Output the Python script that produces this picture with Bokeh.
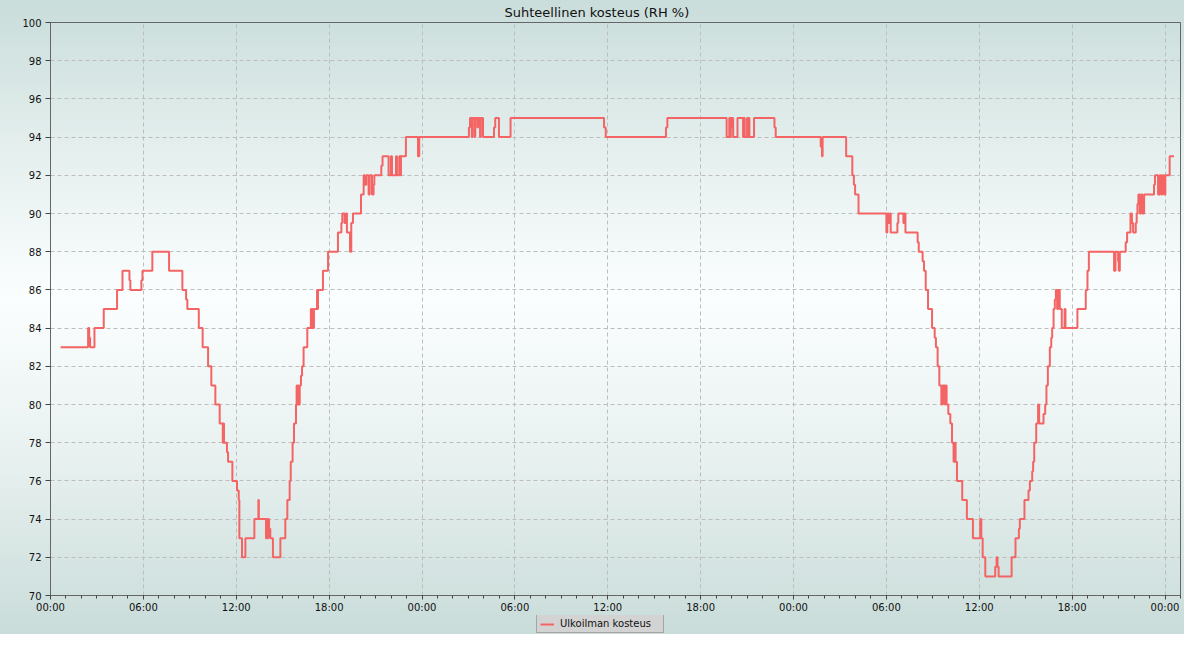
from bokeh.plotting import figure
from bokeh.layouts import column
from bokeh.models import (ColumnDataSource, FixedTicker, Range1d, Legend, LegendItem)
from bokeh.embed import file_html
from bokeh.resources import INLINE

# hours from 00:00 of the first day, relative humidity (%)
hours = [
    0.65, 2.43, 2.50, 2.56, 2.84, 3.44, 4.30, 4.65, 5.10, 5.16, 5.87, 5.94, 6.58, 7.66,
    8.52, 8.76, 8.84, 9.58, 9.83, 10.18, 10.39, 10.65, 10.93, 11.13, 11.17, 11.21,
    11.40, 11.47, 11.75, 12.05, 12.16, 12.20, 12.37, 12.59, 13.17, 13.43, 13.46, 13.92,
    13.97, 14.02, 14.07, 14.12, 14.20, 14.37, 14.85, 15.17, 15.30, 15.45, 15.52, 15.64,
    15.73, 15.86, 15.90, 15.94, 15.99, 16.03, 16.10, 16.18, 16.25, 16.35, 16.59, 16.82,
    16.86, 16.90, 16.94, 17.02, 17.22, 17.26, 17.28, 17.60, 17.93, 18.57, 18.79, 18.85,
    19.00, 19.09, 19.15, 19.35, 19.43, 19.54, 20.06, 20.23, 20.31, 20.40, 20.55, 20.62,
    20.77, 20.87, 20.92, 21.37, 21.45, 21.84, 21.99, 22.06, 22.32, 22.38, 22.53, 22.60,
    22.64, 22.96, 23.74, 23.82,
    27.03, 27.10, 27.22, 27.26, 27.40, 27.44, 27.58, 27.62, 27.75, 27.80, 27.94,
    28.65, 28.73, 28.97, 29.72, 35.76, 35.87, 39.76, 39.85,
    43.68, 43.85, 43.90, 43.95, 44.00, 44.05, 44.10, 44.38, 44.74, 44.80, 44.85, 45.00,
    45.05, 45.10, 45.15, 45.45, 46.77, 46.85, 49.76, 49.84, 49.88,
    51.40, 51.80, 51.90, 51.98, 52.20,
    54.00, 54.06, 54.15, 54.22, 54.28, 54.71, 54.77, 55.10, 55.16, 55.23, 56.02, 56.09,
    56.34, 56.43, 56.54, 56.69, 56.95, 57.12, 57.20, 57.31, 57.42, 57.55, 57.63, 57.76,
    57.81, 57.89, 58.00, 58.13, 58.24, 58.34, 58.43, 58.47, 58.56, 58.90, 59.20, 59.59,
    60.06, 60.13, 60.22, 60.39, 61.03, 61.12, 61.18, 61.25, 62.09, 62.34, 62.56, 62.62,
    62.92, 63.18, 63.27, 63.42, 63.48, 63.55, 63.68, 63.80, 63.87, 64.15, 64.26, 64.34,
    64.43, 64.56, 64.65, 64.71, 64.80, 64.88, 64.95, 65.03, 65.10, 65.20, 65.33, 65.51,
    65.57, 66.34, 66.88, 66.99, 67.08, 68.71, 68.80, 68.97, 69.01, 69.08, 69.46, 69.55,
    69.77, 69.86, 69.94, 70.11, 70.17, 70.22, 70.28, 70.37, 70.45, 70.54, 70.65, 71.29,
    71.35, 71.55, 71.66, 71.76, 71.83, 71.94, 72.02, 72.30, 72.58,
]
humidity = [
    83, 84, 83.5, 83, 84, 85, 86, 87, 86.5, 86, 86.5, 87, 88, 87,
    86, 85.5, 85, 84, 83, 82, 81, 80, 79, 78, 79, 78,
    77.5, 77, 76, 75.5, 75, 73, 72, 73, 74, 75, 74, 73,
    74, 73, 74, 73.5, 73, 72, 73, 74, 75, 76, 77, 78,
    79, 80, 81, 80, 81, 80, 81, 81.5, 82, 83, 84, 85,
    84, 85, 84, 85, 86, 85, 86, 87, 88, 89, 89.5, 90,
    89.5, 90, 89, 88, 89.5, 90, 91, 92, 91.5, 92, 91, 92,
    91, 91.5, 92, 92.5, 93, 92, 93, 92, 93, 92, 93, 92,
    93, 94, 93, 94,
    94.5, 95, 94, 95, 94, 95, 94.5, 95, 94, 95, 94,
    94.5, 95, 94, 95, 94.5, 94, 94.5, 95,
    94, 95, 94, 95, 94.5, 95, 94, 95, 94, 95, 94, 95,
    94, 95, 94, 95, 94.5, 94, 93.5, 93, 94,
    93, 92, 91.5, 91, 90,
    89, 90, 89.5, 90, 89, 89.5, 90, 89.5, 90, 89, 88.5, 88,
    87.5, 87, 86, 85, 84, 83.5, 83, 82, 81, 80, 81, 80,
    81, 80, 79.5, 79, 78, 77, 78, 77, 76, 75, 74, 73,
    74, 73, 72, 71, 71.5, 72, 71.5, 71, 72, 73, 73.5, 74,
    75, 75.5, 76, 76.5, 77, 78, 79, 80, 79, 79.5, 80, 81,
    82, 83, 83.5, 84, 85, 85.5, 86, 85, 86, 85, 84, 85,
    84, 85, 86, 87, 88, 87, 88, 87.5, 87, 88, 88.5, 89,
    90, 89.5, 89, 89.5, 90, 90.5, 91, 90, 91, 90, 91, 91.5,
    92, 91, 92, 91, 92, 91, 92, 93, 93,
]

x_tick_hours = [0, 6, 12, 18, 24, 30, 36, 42, 48, 54, 60, 66, 72]
x_tick_labels = ["00:00", "06:00", "12:00", "18:00", "00:00", "06:00", "12:00",
                 "18:00", "00:00", "06:00", "12:00", "18:00", "00:00"]
y_ticks = list(range(70, 101, 2))

FONT = "DejaVu Sans"
LINE = "#f46464"

source = ColumnDataSource(data=dict(h=hours, v=humidity))

p = figure(frame_width=1130, frame_height=573, output_backend="svg", toolbar_location=None,
           x_range=Range1d(0, 73.0), y_range=Range1d(70, 100),
           min_border_left=50, min_border_right=4, min_border_top=22,
           min_border_bottom=19,
           title="Suhteellinen kosteus (RH %)")
p.background_fill_color = None
p.border_fill_color = None
p.outline_line_color = "#666666"
p.outline_line_width = 1

p.title.align = "left"
p.title.offset = 454
p.title.standoff = 5
p.title.text_font = FONT
p.title.text_font_size = "13px"
p.title.text_font_style = "normal"
p.title.text_color = "#111111"

r = p.step(x="h", y="v", source=source, mode="after", line_color=LINE, line_width=2)

# axes
p.xaxis.ticker = FixedTicker(ticks=x_tick_hours, minor_ticks=list(range(0, 74)))
p.xaxis.major_label_overrides = {h: l for h, l in zip(x_tick_hours, x_tick_labels)}
p.yaxis.ticker = FixedTicker(ticks=y_ticks, minor_ticks=[])
for ax in (p.xaxis, p.yaxis):
    ax.axis_line_color = "#666666"
    ax.major_tick_line_color = "#444444"
    ax.minor_tick_line_color = "#444444"
    ax.major_label_text_font = FONT
    ax.major_label_text_font_size = "10px"
    ax.major_label_text_color = "#111111"
p.xaxis.major_tick_out = 4
p.xaxis.major_tick_in = 0
p.xaxis.minor_tick_out = 3
p.xaxis.minor_tick_in = 0
p.xaxis.major_label_standoff = 2
p.yaxis.major_tick_out = 5
p.yaxis.major_tick_in = 0
p.yaxis.minor_tick_line_color = None
p.yaxis.major_label_standoff = 4

# grid
for g in (p.xgrid, p.ygrid):
    g.grid_line_color = "#bdbdbd"
    g.grid_line_dash = "4 3"
    g.grid_line_width = 1
p.xgrid.ticker = FixedTicker(ticks=x_tick_hours)
p.ygrid.ticker = FixedTicker(ticks=y_ticks)

# legend strip below the chart
pl = figure(width=1184, height=19, output_backend="svg", toolbar_location=None,
            x_range=Range1d(0, 1), y_range=Range1d(0, 1),
            x_axis_location=None, y_axis_location=None,
            min_border_left=0, min_border_right=0, min_border_top=0, min_border_bottom=0)
pl.background_fill_color = None
pl.border_fill_color = None
pl.outline_line_color = None
pl.grid.visible = False
dummy = pl.line(x=[-10, -9], y=[-10, -10], line_color=LINE, line_width=2)
legend = Legend(items=[LegendItem(label="Ulkoilman kosteus", renderers=[dummy])],
                location=(486, 1), orientation="horizontal",
                label_text_font=FONT, label_text_font_size="10px",
                label_text_color="#111111",
                glyph_width=14, glyph_height=10, label_height=10, label_width=100,
                label_standoff=6, padding=3, spacing=0, margin=0,
                background_fill_color="#d3d3d3", background_fill_alpha=1,
                border_line_color="#7a7a7a", border_line_width=1)
pl.add_layout(legend)

layout = column(p, pl, spacing=0)
layout.styles = {"background": "linear-gradient(to bottom, #c9ddda 0%, #e6f0ef 25%, #fbfefe 47%, #e8f1f0 72%, #c9dcd9 100%)"}

open("out.html", "w").write(file_html(layout, INLINE))
